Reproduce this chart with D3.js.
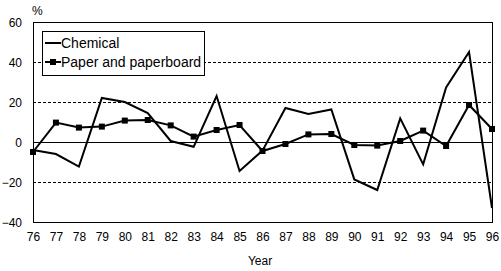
<!DOCTYPE html>
<html>
<head>
<meta charset="utf-8">
<script src="https://cdn.jsdelivr.net/npm/d3@7"></script>
<style>
    body { margin: 0; background: #fff; }
    text { font-family: "Liberation Sans", Arial, sans-serif; font-size: 12px; fill: #000; }
</style>
</head>
<body>
<div id="chart"></div>
<script>
var years = ["76","77","78","79","80","81","82","83","84","85","86","87","88","89","90","91","92","93","94","95","96"];
var chemical = [-4, -6, -12.3, 22, 20, 14.5, 0.5, -2.4, 23, -14.5, -4.3, 17, 14, 16.3, -18.7, -24, 11.8, -11.2, 27.3, 45, -33];
var paper = [-5, 9.7, 7.2, 7.7, 10.7, 11, 8.3, 2.7, 6, 8.5, -4.5, -1, 3.8, 4, -1.5, -1.8, 0.5, 5.7, -2, 18.5, 6.5];
var yTicks = [-40, -20, 0, 20, 40, 60];
var seriesNames = ["Chemical", "Paper and paperboard"];

var W = 501, H = 271;
var margin = {left: 33, right: 9, top: 22, bottom: 49};

var svg = d3.select("#chart").append("svg")
    .attr("width", W)
    .attr("height", H);

var x = d3.scalePoint()
    .domain(years)
    .range([margin.left, W - margin.right]);

var y = d3.scaleLinear()
    .domain([-40, 60])
    .range([H - margin.bottom, margin.top]);

// dashed gridlines, solid zero line
svg.selectAll(".grid")
    .data(yTicks.filter(function(d){ return d !== 0 && d !== 60 && d !== -40; }))
    .enter().append("line")
    .attr("x1", margin.left)
    .attr("x2", W - margin.right)
    .attr("y1", function(d){ return y(d) + 0.5; })
    .attr("y2", function(d){ return y(d) + 0.5; })
    .attr("stroke", "#000")
    .attr("stroke-width", 1)
    .attr("stroke-dasharray", "3,2");

svg.append("line")
    .attr("x1", margin.left)
    .attr("x2", W - margin.right)
    .attr("y1", y(0) + 0.5)
    .attr("y2", y(0) + 0.5)
    .attr("stroke", "#000")
    .attr("stroke-width", 1);

// plot frame
svg.append("rect")
    .attr("x", margin.left + 0.5)
    .attr("y", margin.top + 0.5)
    .attr("width", W - margin.left - margin.right)
    .attr("height", H - margin.top - margin.bottom)
    .attr("fill", "none")
    .attr("stroke", "#000")
    .attr("stroke-width", 1);

var yAxis = d3.axisLeft(y).tickValues(yTicks).tickSize(0).tickPadding(11);
var gy = svg.append("g")
    .attr("transform", "translate(" + margin.left + ",1)")
    .call(yAxis);
gy.select(".domain").remove();
gy.selectAll("text").style("font-size", "12px").style("font-family", null);

var xAxis = d3.axisBottom(x).tickSize(0).tickPadding(10);
var gx = svg.append("g")
    .attr("transform", "translate(0," + (H - margin.bottom) + ")")
    .call(xAxis);
gx.select(".domain").remove();
gx.selectAll("text").style("font-size", "12px").style("font-family", null);

svg.append("text")
    .attr("x", 32)
    .attr("y", 15)
    .text("%");

svg.append("text")
    .attr("x", 260)
    .attr("y", 265)
    .attr("text-anchor", "middle")
    .text("Year");

var line = d3.line()
    .x(function(d, i){ return x(years[i]); })
    .y(function(d){ return y(d); });

svg.append("path")
    .datum(chemical)
    .attr("d", line)
    .attr("fill", "none")
    .attr("stroke", "#000")
    .attr("stroke-width", 2);

svg.append("path")
    .datum(paper)
    .attr("d", line)
    .attr("fill", "none")
    .attr("stroke", "#000")
    .attr("stroke-width", 2);

svg.selectAll(".mk")
    .data(paper)
    .enter().append("rect")
    .attr("x", function(d, i){ return x(years[i]) - 3; })
    .attr("y", function(d){ return y(d) - 3; })
    .attr("width", 6)
    .attr("height", 6)
    .attr("fill", "#000");

// legend
var lg = svg.append("g");
lg.append("rect")
    .attr("x", 42.5)
    .attr("y", 31.5)
    .attr("width", 162)
    .attr("height", 44)
    .attr("fill", "#fff")
    .attr("stroke", "#000");

seriesNames.forEach(function(name, i) {
    var ly = 43 + i * 19;
    lg.append("line")
        .attr("x1", 45).attr("x2", 61)
        .attr("y1", ly).attr("y2", ly)
        .attr("stroke", "#000")
        .attr("stroke-width", 2);
    if (i === 1) {
        lg.append("rect")
            .attr("x", 50).attr("y", ly - 3)
            .attr("width", 6).attr("height", 6)
            .attr("fill", "#000");
    }
    lg.append("text")
        .attr("x", 61)
        .attr("y", ly + 5)
        .style("font-size", "14px")
        .text(name);
});
</script>
</body>
</html>
